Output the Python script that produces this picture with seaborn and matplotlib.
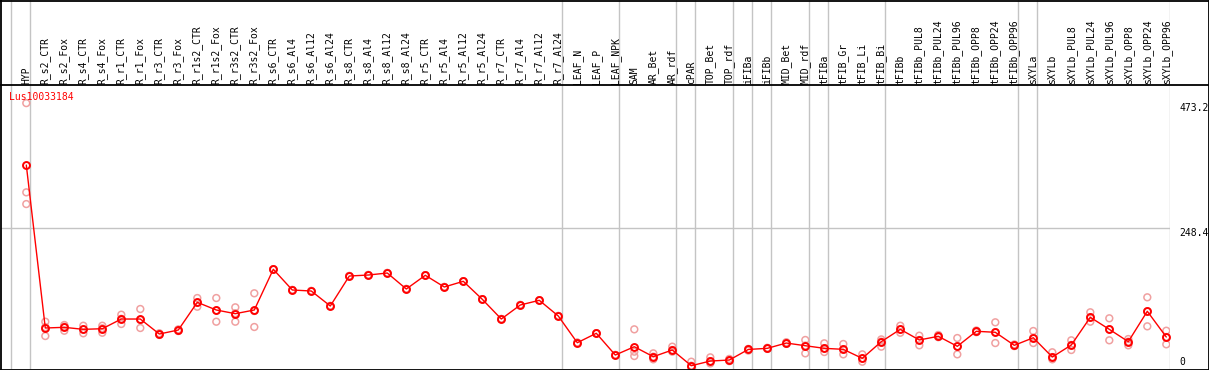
import matplotlib
matplotlib.use('Agg')
import numpy as np
import pandas as pd
import matplotlib.pyplot as plt
import seaborn as sns

# sample columns, in display order
samples = ['HYP',
           'R_s2_CTR', 'R_s2_Fox', 'R_s4_CTR', 'R_s4_Fox', 'R_r1_CTR', 'R_r1_Fox',
           'R_r3_CTR', 'R_r3_Fox', 'R_r1s2_CTR', 'R_r1s2_Fox', 'R_r3s2_CTR', 'R_r3s2_Fox',
           'R_s6_CTR', 'R_s6_Al4', 'R_s6_Al12', 'R_s6_Al24', 'R_s8_CTR', 'R_s8_Al4',
           'R_s8_Al12', 'R_s8_Al24', 'R_r5_CTR', 'R_r5_Al4', 'R_r5_Al12', 'R_r5_Al24',
           'R_r7_CTR', 'R_r7_Al4', 'R_r7_Al12', 'R_r7_Al24',
           'LEAF_N', 'LEAF_P', 'LEAF_NPK',
           'SAM', 'AR_Bet', 'AR_rdf', 'cPAR', 'TOP_Bet', 'TOP_rdf', 'iFIBa', 'iFIBb',
           'MID_Bet', 'MID_rdf', 'tFIBa', 'tFIB_Gr', 'tFIB_Li', 'tFIB_Bi',
           'tFIBb', 'tFIBb_PUL8', 'tFIBb_PUL24', 'tFIBb_PUL96', 'tFIBb_OPP8',
           'tFIBb_OPP24', 'tFIBb_OPP96', 'sXYLa',
           'sXYLb', 'sXYLb_PUL8', 'sXYLb_PUL24', 'sXYLb_PUL96', 'sXYLb_OPP8',
           'sXYLb_OPP24', 'sXYLb_OPP96']
group_sizes = [1, 28, 3, 3, 1, 2, 1, 1, 2, 1, 3, 7, 1, 7]

mean_expr = [362, 69.5, 70.7, 67.1, 68.2, 85.6, 85.6, 58.7, 65.9, 115.6, 101.8, 95.2, 101.8,
             174.9, 137.7, 135.9, 109, 162.8, 164.6, 168.2, 139.5, 164.1, 143.1, 153.3, 121,
             85.6, 110.8, 119.2, 91, 43.1, 60, 21, 35.9, 18, 30, 1.8, 10.2, 12, 31, 33,
             42.5, 37.7, 33, 31.2, 15, 45, 67.1, 48, 54.6, 36.6, 63.6, 61.8, 38.4, 52,
             17.4, 39, 88.7, 67.1, 45, 99.5, 53.3]
rep_a = [473.2, 80.8, 74.9, 73.6, 73.6, 93.4, 103.6, 60, 67, 123.3, 123.3, 106.6, 131.8,
         174.9, 137.7, 135.9, 109, 162.8, 164.6, 168.2, 139.5, 164.1, 143.1, 153.3, 121,
         85.6, 110.8, 119.2, 91, 43.1, 60, 21, 67.1, 24, 36, 9, 16.8, 14, 32, 34,
         44, 48, 42, 40.8, 22.2, 49, 73.6, 55.7, 57, 51.5, 65, 79.7, 40, 64.1,
         25.9, 47.4, 97.7, 86.9, 49.7, 124.6, 64.6]
rep_b = [292, 55.1, 64.6, 60, 61, 76.7, 69.5, 57, 64, 107.7, 80.8, 80.8, 71.3,
         174.9, 137.7, 135.9, 109, 162.8, 164.6, 168.2, 139.5, 164.1, 143.1, 153.3, 121,
         85.6, 110.8, 119.2, 91, 43.1, 60, 21, 19.2, 13.3, 27, 0, 6, 10, 29, 32,
         41, 24, 26.4, 22.2, 9, 36, 61, 38.4, 53, 22.2, 62, 42.5, 37, 42.5,
         13.3, 30, 80.8, 47.4, 38.4, 72.5, 40.2]
rep_c = [313, 71, 72, 67, 69, 86, 84, 59, 66, 115, 101, 96, 100,
         174.9, 137.7, 135.9, 109, 162.8, 164.6, 168.2, 139.5, 164.1, 143.1, 153.3, 121,
         85.6, 110.8, 119.2, 91, 43.1, 60, 21, 27, 18, 30, 1.8, 10, 12, 30, 33,
         42.5, 38, 33, 31, 15, 45, 67, 48, 54.6, 36.6, 63.6, 62, 38.4, 52,
         17.4, 39, 88.7, 67.1, 45, 99.5, 53.3]

gene = 'Lus10033184'
scale_values = [473.2, 248.4, 0]
scale_labels = ['473.2', '248.4', '0']

pos = np.arange(len(samples))
reps = pd.DataFrame({
    'pos': np.tile(pos, 3),
    'value': rep_a + rep_b + rep_c,
})
means = pd.DataFrame({'pos': pos, 'value': mean_expr})

sns.set_style('white')
plt.rcParams['font.family'] = ['DejaVu Sans Mono']

W, H = 1209, 370
fig = plt.figure(figsize=(W / 100, H / 100), dpi=100)

# pixel layout
x0, x1 = 1, 1170
head = 85
xlim = ((x0 - 26.3) / 19, (x1 - 26.3) / 19)
ylim = (-4.1, 505.7)

ax = fig.add_axes([x0 / W, 1 / H, (x1 - x0) / W, (H - head - 1) / H])
hx = fig.add_axes([x0 / W, (H - head) / H, (x1 - x0) / W, head / H])
for a in (ax, hx):
    a.set_xlim(*xlim)
    a.set_xticks([])
    a.set_yticks([])
    for s in a.spines.values():
        s.set_visible(False)
    a.set_facecolor('none')
ax.set_ylim(*ylim)
hx.set_ylim(head, 0)

# group separators
bounds = [-1] + list(np.cumsum(group_sizes) - 1)
for b in bounds:
    for a in (ax, hx):
        a.axvline(b + 0.21, color='#c4c4c4', lw=1, zorder=0)
ax.axhline(scale_values[1], color='#c4c4c4', lw=1, zorder=0)

# replicates and mean line
sns.scatterplot(data=reps, x='pos', y='value', ax=ax, marker='o', s=24,
                facecolor='none', edgecolor='#f0a0a0', linewidth=1.1, zorder=2)
sns.lineplot(data=means, x='pos', y='value', ax=ax, color='#ff0000', lw=1,
             marker='o', markersize=5, markerfacecolor='none',
             markeredgecolor='#ff0000', markeredgewidth=1.4, zorder=3)
ax.set_xlabel('')
ax.set_ylabel('')
ax.set_xlim(*xlim)
ax.set_ylim(*ylim)

# column labels
for i, name in enumerate(samples):
    hx.text(i, 83.5, name, rotation=90, ha='center', va='bottom',
            fontsize=7, color='black')

ax.text((9 - x0) / (x1 - x0), 1 - (97 - head) / (H - head - 1), gene,
        transform=ax.transAxes, ha='left', va='center', fontsize=7, color='red')

# value scale on the right
tr = ax.get_yaxis_transform()
lx = (1179 - x0) / (x1 - x0)
for v, lab in zip(scale_values, scale_labels):
    ax.text(lx, v, lab, transform=tr, ha='left', va='top' if v > 0 else 'bottom',
            fontsize=7, color='black', clip_on=False)

# outer frame and header rule
ln = dict(color='black', lw=1.3, transform=fig.transFigure)
fig.add_artist(plt.Line2D([0, 1], [1 - head / H, 1 - head / H], **ln))
fig.add_artist(plt.Line2D([0.5 / W, 0.5 / W], [0, 1], **ln))
fig.add_artist(plt.Line2D([1 - 0.5 / W, 1 - 0.5 / W], [0, 1], **ln))
fig.add_artist(plt.Line2D([0, 1], [0.5 / H, 0.5 / H], **ln))
fig.add_artist(plt.Line2D([0, 1], [1 - 0.5 / H, 1 - 0.5 / H], **ln))

fig.savefig('out.png', dpi=100)
